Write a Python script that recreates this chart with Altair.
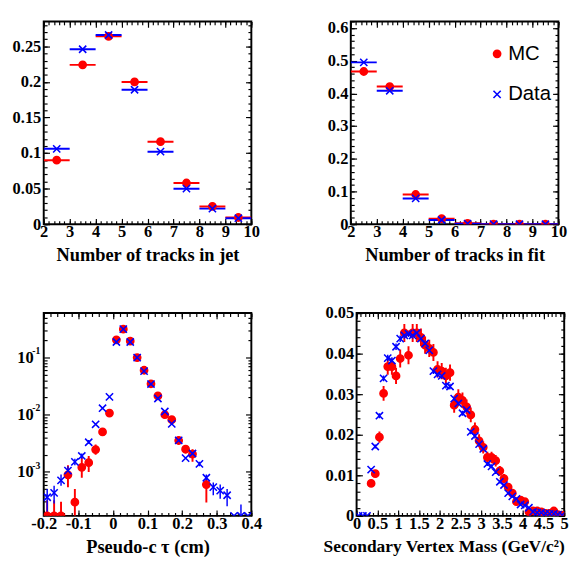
import altair as alt
import pandas as pd

# ---------------- data ----------------
series_names = ["MC", "Data"]

# Panel 1: number of tracks in jet (bins 2-10)
jet_lo = [2, 3, 4, 5, 6, 7, 8, 9]
jet_hi = [3, 4, 5, 6, 7, 8, 9, 10]
jet_mc = [0.090, 0.224, 0.264, 0.200, 0.116, 0.058, 0.025, 0.0095]
jet_data = [0.106, 0.246, 0.266, 0.189, 0.102, 0.050, 0.022, 0.0085]

# Panel 2: number of tracks in fit
fit_lo = [2, 3, 4, 5, 6, 7, 8, 9]
fit_hi = [3, 4, 5, 6, 7, 8, 9, 10]
fit_mc = [0.467, 0.421, 0.091, 0.017, 0.003, 0.0005, 0.0, 0.0]
fit_data = [0.495, 0.408, 0.079, 0.013, 0.002, 0.0003, 0.0, 0.0]

# Panel 3: pseudo-c tau (log scale), bin centres
ctau_x = [-0.19, -0.17, -0.15, -0.13, -0.11, -0.09, -0.07, -0.05, -0.03, -0.01,
          0.01, 0.03, 0.05, 0.07, 0.09, 0.11, 0.13, 0.15, 0.17, 0.19,
          0.21, 0.23, 0.25, 0.27, 0.29, 0.31, 0.33, 0.35, 0.37, 0.39]
ctau_data = [3.6e-4, 4.3e-4, 7.1e-4, 1.05e-3, 1.5e-3, 1.9e-3, 3.3e-3, 6.8e-3, 1.30e-2, 2.05e-2,
             0.187, 0.314, 0.187, 0.100, 0.058, 0.0344, 0.0192, 0.0114, 0.0069, 0.00355,
             0.00174, 0.0021, 0.00138, 7.9e-4, 5.4e-4, 4.7e-4, 3.9e-4, 1.7e-4, 1.7e-4, 1.7e-4]
ctau_data_lo = [1.9e-4, 2.8e-4, 5.7e-4, 0.9e-3, 1.3e-3, 1.7e-3, 3.1e-3, None, None, None,
                None, None, None, None, None, None, None, None, None, None,
                None, 1.9e-3, 1.25e-3, 6.8e-4, 3.9e-4, 3.4e-4, 2.5e-4, None, 1.7e-4, None]
ctau_data_hi = [5.0e-4, 5.7e-4, 9.0e-4, 1.25e-3, 1.7e-3, 2.1e-3, 3.6e-3, None, None, None,
                None, None, None, None, None, None, None, None, None, None,
                None, 2.3e-3, 1.5e-3, 9.0e-4, 6.5e-4, 6.0e-4, 5.0e-4, None, 2.7e-4, None]
ctau_mc = [1.7e-4, 1.7e-4, 1.7e-4, 8.9e-4, 2.95e-4, 1.2e-3, 1.45e-3, 2.46e-3, 5.0e-3, 0.0107,
           0.204, 0.314, 0.194, 0.100, 0.060, 0.0348, 0.0213, 0.0100, 0.0082, 0.00354,
           0.0025, 0.00205, None, 6.0e-4, None, None, None, None, None, None]
ctau_mc_lo = [1.7e-4, 1.7e-4, 1.7e-4, 5.4e-4, 1.7e-4, 7.9e-4, 1.0e-3, 2.0e-3, 4.3e-3, None,
              None, None, None, None, None, None, None, None, None, 3.0e-3,
              2.1e-3, 1.5e-3, None, 2.9e-4, None, None, None, None, None, None]
ctau_mc_hi = [3.2e-4, 3.2e-4, 3.0e-4, 1.3e-3, 5.0e-4, 1.8e-3, 1.9e-3, 3.0e-3, 5.8e-3, None,
              None, None, None, None, None, None, None, None, None, 4.1e-3,
              2.9e-3, 2.5e-3, None, 8.3e-4, None, None, None, None, None, None]

# Panel 4: secondary vertex mass, bin centres 0.05 ... 4.95
mass_x = [0.05, 0.15, 0.25, 0.35, 0.45, 0.55, 0.65, 0.75, 0.85, 0.95,
          1.05, 1.15, 1.25, 1.35, 1.45, 1.55, 1.65, 1.75, 1.85, 1.95,
          2.05, 2.15, 2.25, 2.35, 2.45, 2.55, 2.65, 2.75, 2.85, 2.95,
          3.05, 3.15, 3.25, 3.35, 3.45, 3.55, 3.65, 3.75, 3.85, 3.95,
          4.05, 4.15, 4.25, 4.35, 4.45, 4.55, 4.65, 4.75, 4.85, 4.95]
mass_data = [0.0, 0.0, 0.0, 0.0114, 0.0171, 0.0247, 0.0339, 0.0389, 0.0383, 0.0417,
             0.0437, 0.0445, 0.0449, 0.0445, 0.0451, 0.0437, 0.0425, 0.0408, 0.0357, 0.0349,
             0.0345, 0.0321, 0.0319, 0.0289, 0.0277, 0.0253, 0.0261, 0.0207, 0.0197, 0.0177,
             0.0165, 0.0128, 0.0122, 0.0108, 0.0084, 0.0076, 0.0056, 0.0048, 0.0042, 0.0028,
             0.0026, 0.0020, 0.0010, 0.0008, 0.0008, 0.0006, 0.0005, 0.0005, 0.0003, 0.0002]
mass_data_err = [None, None, None, 0.0004, 0.0005, 0.0006, 0.0007, 0.0008, 0.0008, 0.0008,
                 0.0008, 0.0008, 0.0008, 0.0008, 0.0008, 0.0008, 0.0008, 0.0008, 0.0007, 0.0007,
                 0.0007, 0.0007, 0.0007, 0.0007, 0.0007, 0.0006, 0.0006, 0.0006, 0.0006, 0.0006,
                 0.0005, 0.0005, 0.0005, 0.0005, 0.0004, 0.0004, 0.0004, 0.0003, 0.0003, 0.0003,
                 0.0003, 0.0002, 0.0002, 0.0002, 0.0002, 0.0001, 0.0001, 0.0001, 0.0001, 0.0001]
mass_mc = [None, None, None, 0.0080, 0.0104, 0.0194, 0.0302, 0.0368, 0.0368, 0.0345,
           0.0388, 0.0451, 0.0396, 0.0451, 0.0451, 0.0440, 0.0421, 0.0413, 0.0403, 0.0361,
           0.0357, 0.0345, 0.0353, 0.0273, 0.0293, 0.0285, 0.0269, 0.0249, 0.0213, 0.0185,
           0.0169, 0.0144, 0.0144, 0.0136, 0.0111, 0.0092, 0.0071, 0.0056, 0.0035, 0.0039,
           0.0035, 0.0010, 0.0012, 0.0012, 0.0010, 0.0006, 0.0006, 0.0012, 0.0003, 0.0002]
mass_mc_err = [None, None, None, 0.0006, 0.0008, 0.0014, 0.0018, 0.0020, 0.0020, 0.0020,
               0.0022, 0.0022, 0.0022, 0.0022, 0.0022, 0.0022, 0.0021, 0.0021, 0.0021, 0.0020,
               0.0020, 0.0020, 0.0020, 0.0019, 0.0019, 0.0019, 0.0018, 0.0018, 0.0017, 0.0016,
               0.0015, 0.0014, 0.0014, 0.0014, 0.0012, 0.0011, 0.0010, 0.0009, 0.0007, 0.0007,
               0.0007, 0.0004, 0.0004, 0.0004, 0.0004, 0.0003, 0.0003, 0.0004, 0.0002, 0.0002]

# axis tick values
jet_xmaj = [2, 3, 4, 5, 6, 7, 8, 9, 10]
jet_xmin = [round(2 + 0.2 * i, 2) for i in range(41)]
jet_ymaj = [0, 0.05, 0.1, 0.15, 0.2, 0.25]
jet_ymin = [round(0.01 * i, 2) for i in range(29)]
fit_ymaj = [0, 0.1, 0.2, 0.3, 0.4, 0.5, 0.6]
fit_ymin = [round(0.02 * i, 2) for i in range(32)]
ctau_xmaj = [-0.2, -0.1, 0, 0.1, 0.2, 0.3, 0.4]
ctau_xmin = [round(-0.2 + 0.02 * i, 2) for i in range(31)]
ctau_ymaj = [1e-3, 1e-2, 1e-1]
ctau_ymin = [m * d for d in [1e-4, 1e-3, 1e-2, 1e-1] for m in range(2, 10) if 1.7e-4 <= m * d <= 0.6]
mass_xmaj = [0, 0.5, 1, 1.5, 2, 2.5, 3, 3.5, 4, 4.5, 5]
mass_xmin = [round(0.1 * i, 2) for i in range(51)]
mass_ymaj = [0, 0.01, 0.02, 0.03, 0.04, 0.05]
mass_ymin = [round(0.002 * i, 3) for i in range(26)]

RED = "#ff0000"
BLUE = "#0000ff"
SERIF = "Liberation Serif"
SANS = "Liberation Sans"
XPATH = "M-1,-1L1,1M1,-1L-1,1"
MAJ, MINR = 6, 3.5
W = 215

# ------------- tables -------------
def table(x, mc, data, lo=None, hi=None, mc_lo=None, mc_hi=None, d_lo=None, d_hi=None):
    rows = []
    for name, vals, elo, ehi in [("MC", mc, mc_lo, mc_hi), ("Data", data, d_lo, d_hi)]:
        for i, v in enumerate(vals):
            rows.append(dict(series=name, x=x[i], v=v,
                             lo=(lo[i] if lo else None), hi=(hi[i] if hi else None),
                             elo=(elo[i] if elo else None), ehi=(ehi[i] if ehi else None)))
    return pd.DataFrame(rows)

jet_x = [(a + b) / 2 for a, b in zip(jet_lo, jet_hi)]
fit_x = [(a + b) / 2 for a, b in zip(fit_lo, fit_hi)]
df_jet = table(jet_x, jet_mc, jet_data, jet_lo, jet_hi)
df_fit = table(fit_x, fit_mc, fit_data, fit_lo, fit_hi)
df_ctau = table(ctau_x, ctau_mc, ctau_data, mc_lo=ctau_mc_lo, mc_hi=ctau_mc_hi,
                d_lo=ctau_data_lo, d_hi=ctau_data_hi)
mass_mc_lo = [None if (v is None or e is None) else v - e for v, e in zip(mass_mc, mass_mc_err)]
mass_mc_hi = [None if (v is None or e is None) else v + e for v, e in zip(mass_mc, mass_mc_err)]
mass_d_lo = [None if e is None else v - e for v, e in zip(mass_data, mass_data_err)]
mass_d_hi = [None if e is None else v + e for v, e in zip(mass_data, mass_data_err)]
df_mass = table(mass_x, mass_mc, mass_data, mc_lo=mass_mc_lo, mc_hi=mass_mc_hi,
                d_lo=mass_d_lo, d_hi=mass_d_hi)

LEGEND = alt.Legend(orient="none", legendX=141, legendY=23, title=None,
                    labelFont=SANS, labelFontSize=21, labelFontWeight="normal",
                    labelColor="black", symbolSize=56, symbolStrokeWidth=1.6,
                    rowPadding=20, labelOffset=1, padding=0)


def tick_axis(orient, values, size):
    return alt.Axis(orient=orient, values=values, tickSize=size, offset=-size,
                    domain=False, grid=False, labels=False, ticks=True,
                    tickColor="black", tickWidth=1.2, minExtent=0, title=None)


def label_axis_x(values, title, tpad, tsize, anchor):
    return alt.Axis(orient="bottom", values=values, tickSize=MAJ, offset=-MAJ,
                    domain=False, grid=False, ticks=True, tickColor="black", tickWidth=1.2,
                    labelFont=SERIF, labelFontSize=17, labelFontWeight="bold",
                    labelColor="black", labelPadding=0, labelFlush=False, labelOverlap=False,
                    labelExpr="replace(format(datum.value, '~g'), '\u2212', '-')",
                    title=title, titleFont=SERIF, titleFontSize=tsize, titleFontWeight="bold",
                    titleColor="black", titlePadding=tpad, titleAnchor=anchor)


def label_axis_y(values, expr, pad=3):
    return alt.Axis(orient="left", values=values, tickSize=MAJ, offset=-MAJ,
                    domain=False, grid=False, ticks=True, tickColor="black", tickWidth=1.2,
                    labelFont=SERIF, labelFontSize=17, labelFontWeight="bold",
                    labelColor="black", labelPadding=pad, labelOverlap=False,
                    labelExpr=expr, minExtent=38, maxExtent=38, title=None)


def panel(df, xdom, ydom, xmaj, xmin, ymaj, ymin, xtitle, height, ylog=False, bars=False,
          legend=None, tpad=7, tsize=19, anchor="middle"):
    xs = alt.Scale(domain=xdom, nice=False, zero=False)
    if ylog:
        ys = alt.Scale(type="log", domain=ydom, nice=False)
    else:
        ys = alt.Scale(domain=ydom, nice=False, zero=False)
    base = alt.Chart(df)

    def axis_layer(xa, ya):
        return base.mark_point(opacity=0, clip=True).encode(
            x=alt.X("x:Q", scale=xs, axis=xa), y=alt.Y("v:Q", scale=ys, axis=ya))

    if ylog:
        ylab = label_axis_y(ymaj, "'10'", pad=11)
    else:
        ylab = label_axis_y(ymaj, "format(datum.value, '~g')")

    layers = [
        axis_layer(label_axis_x(xmaj, xtitle, tpad, tsize, anchor), ylab),
        axis_layer(tick_axis("bottom", xmin, MINR), tick_axis("left", ymin, MINR)),
        axis_layer(tick_axis("top", xmaj, MAJ), tick_axis("right", ymaj, MAJ)),
        axis_layer(tick_axis("top", xmin, MINR), tick_axis("right", ymin, MINR)),
    ]
    if ylog:
        sup = alt.Axis(orient="left", values=ymaj, ticks=False, domain=False, grid=False,
                       labelFont=SERIF, labelFontSize=10, labelFontWeight="bold",
                       labelColor="black", labelPadding=4, labelOffset=-7, minExtent=0,
                       labelExpr="'' + round(log(datum.value) / LN10)", title=None)
        layers.append(axis_layer(None, sup))

    for name, col in [("MC", RED), ("Data", BLUE)]:
        sub = base.transform_filter(alt.datum.series == name)
        if bars:
            layers.append(sub.mark_rule(color=col, strokeWidth=2, clip=True).encode(
                x=alt.X("lo:Q", scale=xs, axis=None), x2="hi:Q",
                y=alt.Y("v:Q", scale=ys, axis=None)))
        else:
            layers.append(sub.mark_rule(color=col, strokeWidth=(2 if name == "MC" else 1.5),
                                        clip=True).encode(
                x=alt.X("x:Q", scale=xs, axis=None),
                y=alt.Y("elo:Q", scale=ys, axis=None), y2="ehi:Q"))

    layers.append(base.mark_point(size=56, strokeWidth=1.6, opacity=1, clip=True).encode(
        x=alt.X("x:Q", scale=xs, axis=None),
        y=alt.Y("v:Q", scale=ys, axis=None),
        fill=alt.Fill("series:N", scale=alt.Scale(domain=series_names, range=[RED, "transparent"]),
                      legend=legend),
        stroke=alt.Stroke("series:N", scale=alt.Scale(domain=series_names, range=[RED, BLUE]),
                          legend=legend),
        shape=alt.Shape("series:N", scale=alt.Scale(domain=series_names, range=["circle", XPATH]),
                        legend=legend),
    ))
    return alt.layer(*layers).resolve_axis(x="independent", y="independent").properties(
        width=W, height=height)


p1 = panel(df_jet, [2, 10], [0, 0.285], jet_xmaj, jet_xmin, jet_ymaj, jet_ymin,
           "Number of tracks in jet", 210, bars=True)
p2 = panel(df_fit, [2, 10], [0, 0.62], jet_xmaj, jet_xmin, fit_ymaj, fit_ymin,
           "Number of tracks in fit", 210, bars=True, legend=LEGEND)
p3 = panel(df_ctau, [-0.2, 0.4], [1.7e-4, 0.6], ctau_xmaj, ctau_xmin, ctau_ymaj, ctau_ymin,
           "Pseudo-c \u03c4 (cm)", 210, ylog=True, tpad=7)
p4 = panel(df_mass, [0, 5], [0, 0.05], mass_xmaj, mass_xmin, mass_ymaj, mass_ymin,
           "Secondary Vertex Mass (GeV/c\u00b2)", 210, tpad=7, tsize=18, anchor="end")

IND = dict(fill="independent", stroke="independent", shape="independent")
row1 = alt.hconcat(p1, p2, spacing=60).resolve_scale(**IND)
row2 = alt.hconcat(p3, p4, spacing=60).resolve_scale(**IND)
chart = alt.vconcat(row1, row2, spacing=39).resolve_scale(**IND).properties(
    padding={"left": 3, "top": 0, "right": 0, "bottom": 0},
    background="white",
).configure_view(stroke="black", strokeWidth=2)

chart.save("out.html", embed_options={"renderer": "svg", "actions": False})
